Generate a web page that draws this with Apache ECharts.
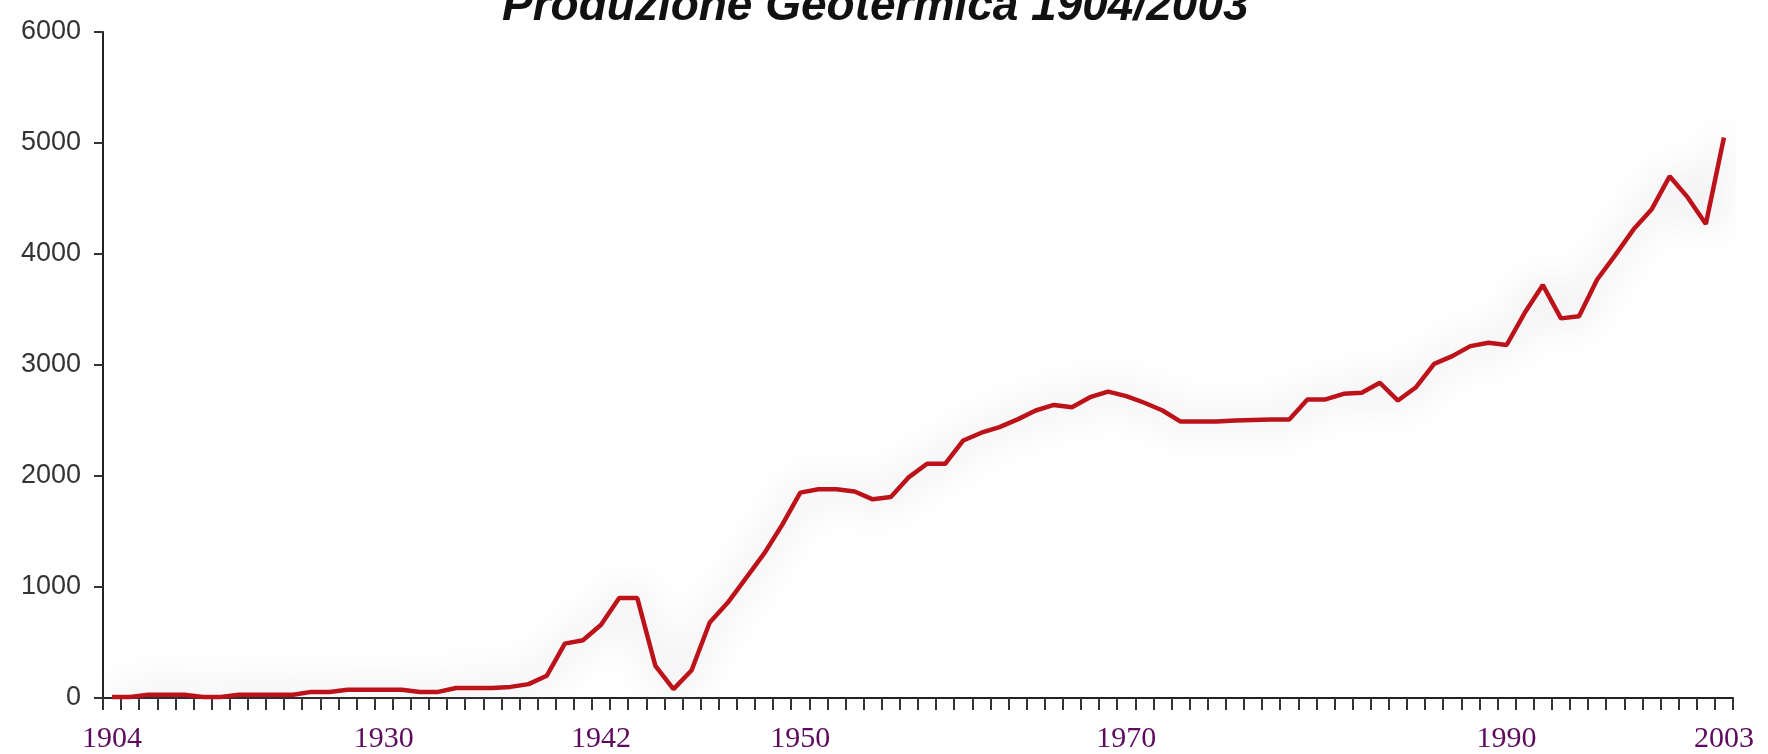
<!DOCTYPE html>
<html>
<head>
<meta charset="utf-8">
<title>Produzione Geotermica 1904/2003</title>
<script src="https://cdn.jsdelivr.net/npm/echarts@6/dist/echarts.min.js"></script>
<style>
html,body{margin:0;padding:0;background:#fff;}
#chart{width:1768px;height:754px;}
</style>
</head>
<body>
<div id="chart"></div>
<script>
// produzione annua (un punto per ogni intervallo dell'asse)
var produzione = [
	10, 10, 30, 30, 30, 10, 10, 30, 30, 30,
	30, 55, 55, 75, 75, 75, 75, 55, 55, 90,
	90, 90, 100, 125, 200, 490, 520, 660, 900, 900,
	290, 80, 250, 680, 860, 1080, 1300, 1560, 1850, 1880,
	1880, 1860, 1790, 1810, 1990, 2110, 2110, 2320, 2390, 2440,
	2510, 2590, 2640, 2620, 2710, 2760, 2720, 2660, 2590, 2490,
	2490, 2490, 2500, 2505, 2510, 2510, 2690, 2690, 2740, 2750,
	2840, 2680, 2800, 3010, 3080, 3170, 3200, 3180, 3470, 3720,
	3420, 3440, 3770, 3990, 4220, 4400, 4700, 4510, 4270, 5050
];
// etichette dell'asse x
var anniEtichetta = ['1904', '1930', '1942', '1950', '1970', '1990', '2003'];
var posEtichetta = [0, 15, 27, 38, 56, 77, 89];
// tacche asse y
var yMin = 0, yMax = 6000, yPasso = 1000;

var categorie = [];
for (var i = 0; i < produzione.length; i++) {
	categorie.push('p' + i);
}

var myChart = echarts.init(document.getElementById('chart'));
var option = {
	animation: false,
	backgroundColor: '#ffffff',
	title: {
		text: 'Produzione Geotermica 1904/2003',
		left: 497,
		top: -21,
		textStyle: {
			fontFamily: 'Liberation Sans, Arial, sans-serif',
			fontSize: 46,
			fontWeight: 'bold',
			fontStyle: 'italic',
			color: '#111111'
		}
	},
	grid: {
		left: 103,
		right: 35,
		top: 32,
		bottom: 55
	},
	xAxis: {
		type: 'category',
		data: categorie,
		boundaryGap: true,
		axisLine: { lineStyle: { color: '#222', width: 2 } },
		axisTick: {
			show: true,
			interval: 0,
			length: 12,
			lineStyle: { color: '#333', width: 2 }
		},
		axisLabel: {
			interval: 0,
			margin: 26,
			fontFamily: 'Liberation Serif, Times New Roman, serif',
			fontSize: 30,
			color: '#5e0a5e',
			formatter: function (value, index) {
				var k = posEtichetta.indexOf(index);
				return k >= 0 ? anniEtichetta[k] : '';
			}
		},
		splitLine: { show: false }
	},
	yAxis: {
		type: 'value',
		min: yMin,
		max: yMax,
		interval: yPasso,
		axisLine: { show: true, lineStyle: { color: '#222', width: 2 } },
		axisTick: { show: true, length: 9, lineStyle: { color: '#333', width: 2 } },
		axisLabel: {
			margin: 22,
			fontFamily: 'Liberation Sans Narrow, Liberation Sans, Arial, sans-serif',
			fontSize: 27,
			color: '#333333',
			formatter: function (v) { return String(v); }
		},
		splitLine: { show: false }
	},
	series: [
		{
			name: 'Produzione',
			type: 'line',
			data: produzione,
			symbol: 'none',
			lineStyle: {
				color: '#bc131b',
				width: 4.5,
				shadowColor: 'rgba(185,175,185,1)',
				shadowBlur: 40
			}
		}
	]
};
myChart.setOption(option);
</script>
</body>
</html>
